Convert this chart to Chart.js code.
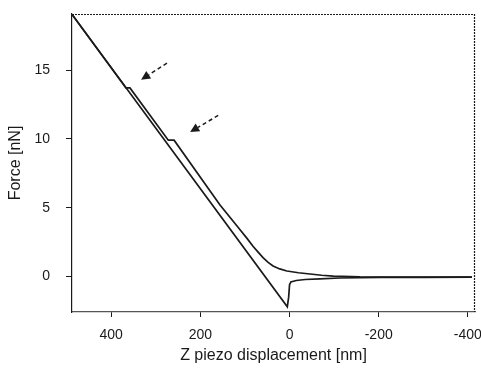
<!DOCTYPE html>
<html lang="en">

<head>
    <meta charset="UTF-8">
    <title>Force curve</title>
    <script src="https://cdn.jsdelivr.net/npm/chart.js"></script>
    <style>
        body {
            margin: 0;
            background: #fff;
        }

        canvas {
            display: block;
        }
    </style>
</head>

<body>
    <canvas id="forceChart" width="481" height="368"></canvas>

    <script>
        // approach curve (two small steps on the way in)
        const approachZ = [487, 367, 358, 272, 259, 156, 111, 95, 82, 70, 59, 48, 37, 22, 6, -20, -46, -72, -98, -158, -260, -409];
        const approachF = [19.0, 13.7, 13.7, 9.9, 9.9, 5.2, 3.4, 2.75, 2.2, 1.75, 1.35, 1.02, 0.76, 0.55, 0.4, 0.27, 0.18, 0.09, 0.02, -0.03, -0.04, -0.05];

        // retract curve with the adhesion dip at contact
        const retractZ = [487, 5, 2, 0, -3, -15, -35, -68, -113, -203, -300, -409];
        const retractF = [19.0, -2.2, -1.5, -0.6, -0.4, -0.29, -0.22, -0.17, -0.11, -0.07, -0.06, -0.05];

        const xTicks = [400, 200, 0, -200, -400];
        const yTicks = [0, 5, 10, 15];

        // arrows pointing at the two steps
        const arrowTails = [[275, 15.5], [160, 11.7]];
        const arrowHeads = [[333, 14.3], [223, 10.5]];

        const toPoints = (xs, ys) => xs.map((v, i) => ({ x: v, y: ys[i] }));

        const ink = '#1a1a1a';
        const font = { family: '"Liberation Sans", Arial, sans-serif', size: 14 };

        const framePlugin = {
            id: 'frame',
            beforeDraw(chart) {
                const ctx = chart.ctx;
                ctx.save();
                ctx.fillStyle = '#fff';
                ctx.fillRect(0, 0, chart.width, chart.height);
                ctx.restore();
            },
            afterDraw(chart) {
                const { ctx, chartArea: a, scales: { x, y } } = chart;
                ctx.save();
                ctx.strokeStyle = ink;
                ctx.lineWidth = 1.2;
                ctx.setLineDash([2, 1]);
                ctx.beginPath();
                ctx.moveTo(a.left, a.top + 0.5);
                ctx.lineTo(a.right, a.top + 0.5);
                ctx.moveTo(a.right - 0.5, a.top);
                ctx.lineTo(a.right - 0.5, a.bottom);
                ctx.stroke();

                // annotation arrows
                arrowTails.forEach((t, i) => {
                    const h = arrowHeads[i];
                    const x0 = x.getPixelForValue(t[0]), y0 = y.getPixelForValue(t[1]);
                    const x1 = x.getPixelForValue(h[0]), y1 = y.getPixelForValue(h[1]);
                    const ang = Math.atan2(y1 - y0, x1 - x0);
                    const len = 9, half = 4.5;
                    const bx = x1 - len * Math.cos(ang), by = y1 - len * Math.sin(ang);
                    ctx.setLineDash([4, 3]);
                    ctx.lineWidth = 1.5;
                    ctx.beginPath();
                    ctx.moveTo(x0, y0);
                    ctx.lineTo(bx, by);
                    ctx.stroke();
                    ctx.setLineDash([]);
                    ctx.fillStyle = ink;
                    ctx.beginPath();
                    ctx.moveTo(x1, y1);
                    ctx.lineTo(bx + half * Math.sin(ang), by - half * Math.cos(ang));
                    ctx.lineTo(bx - half * Math.sin(ang), by + half * Math.cos(ang));
                    ctx.closePath();
                    ctx.fill();
                });
                ctx.restore();
            }
        };

        new Chart(document.getElementById('forceChart'), {
            type: 'line',
            data: {
                datasets: [{
                    label: 'approach',
                    data: toPoints(approachZ, approachF),
                    borderColor: ink,
                    borderWidth: 1.7,
                    pointRadius: 0,
                    tension: 0
                }, {
                    label: 'retract',
                    data: toPoints(retractZ, retractF),
                    borderColor: ink,
                    borderWidth: 1.7,
                    pointRadius: 0,
                    tension: 0
                }]
            },
            options: {
                responsive: false,
                devicePixelRatio: 1,
                animation: false,
                layout: { padding: { top: 14, right: 6, left: 0, bottom: 0 } },
                plugins: {
                    legend: { display: false },
                    tooltip: { enabled: false }
                },
                scales: {
                    x: {
                        type: 'linear',
                        reverse: true,
                        min: -416,
                        max: 488,
                        afterBuildTicks: s => { s.ticks = xTicks.map(v => ({ value: v })); },
                        afterFit: s => {
                            s.height = 56;
                            s.paddingLeft = 0;
                            s.paddingRight = 0;
                        },
                        ticks: {
                            color: ink,
                            font: font,
                            padding: 10,
                            maxRotation: 0,
                            autoSkip: false,
                            callback: v => String(v)
                        },
                        grid: { drawOnChartArea: false, tickLength: 5, tickColor: ink },
                        border: { color: '#555', width: 1.2, dash: [2, 2] },
                        title: {
                            display: true,
                            text: 'Z piezo displacement [nm]',
                            color: ink,
                            font: { family: font.family, size: 16 },
                            padding: { top: 0, bottom: 3 }
                        }
                    },
                    y: {
                        min: -2.58,
                        max: 19.07,
                        afterBuildTicks: s => { s.ticks = yTicks.map(v => ({ value: v })); },
                        afterFit: s => {
                            s.width = 72;
                            s.paddingTop = 0;
                            s.paddingBottom = 0;
                        },
                        ticks: { color: ink, font: font, padding: 16 },
                        grid: { drawOnChartArea: false, tickLength: 6, tickColor: ink },
                        border: { color: ink, width: 1.2, dash: [2, 1] },
                        title: {
                            display: true,
                            text: 'Force [nN]',
                            color: ink,
                            font: { family: font.family, size: 16 },
                            padding: { top: 6, bottom: 0 }
                        }
                    }
                }
            },
            plugins: [framePlugin]
        });
    </script>
</body>

</html>
